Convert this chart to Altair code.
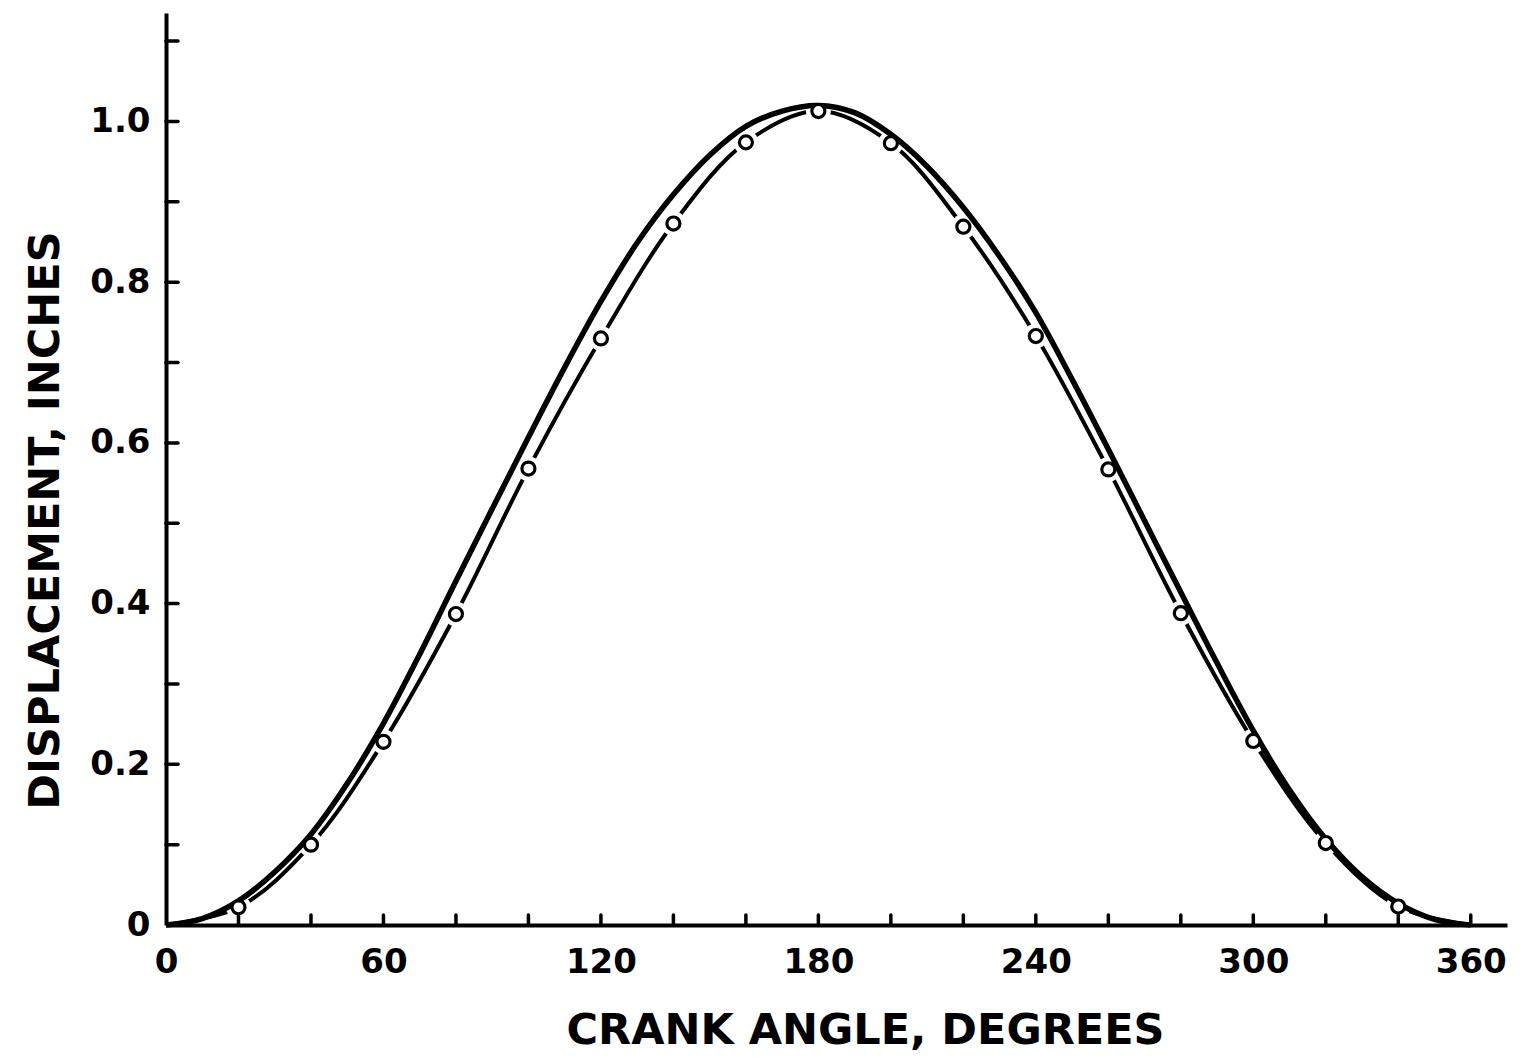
import altair as alt
import pandas as pd

# Measured curve (circles) - crank angle in degrees, displacement in inches
meas_angle = [20, 40, 60, 80, 100, 120, 140, 160, 180, 200, 220, 240, 260, 280, 300, 320, 340]
meas_disp = [0.022, 0.100, 0.228, 0.387, 0.568, 0.730, 0.873, 0.974, 1.013,
             0.973, 0.869, 0.733, 0.567, 0.388, 0.229, 0.102, 0.023]

# Thin line through the measured points (with zero end points)
thin_angle = [0] + meas_angle + [360]
thin_disp = [0.0] + meas_disp + [0.0]

# Heavy solid curve
solid_angle = list(range(0, 361, 10))
solid_disp = [0.000, 0.008, 0.030, 0.066, 0.113, 0.176, 0.251, 0.337, 0.428, 0.518,
              0.607, 0.694, 0.776, 0.849, 0.909, 0.958, 0.994, 1.013, 1.020, 1.011,
              0.984, 0.944, 0.893, 0.832, 0.762, 0.679, 0.592, 0.503, 0.414, 0.326,
              0.242, 0.168, 0.107, 0.060, 0.027, 0.007, 0.000]

x_tick_values = list(range(20, 361, 20))
x_label_values = [0, 60, 120, 180, 240, 300, 360]
y_tick_values = [0.1, 0.2, 0.3, 0.4, 0.5, 0.6, 0.7, 0.8, 0.9, 1.0, 1.1]
y_label_values = [0, 0.2, 0.4, 0.6, 0.8, 1.0]

W = 1341
H = 912
FONT = "DejaVu Sans"

thin_df = pd.DataFrame({"angle": thin_angle, "disp": thin_disp})
meas_df = pd.DataFrame({"angle": meas_angle, "disp": meas_disp})
solid_df = pd.DataFrame({"angle": solid_angle, "disp": solid_disp})
xt_df = pd.DataFrame({"angle": x_tick_values})
yt_df = pd.DataFrame({"disp": y_tick_values})

xs = alt.Scale(domain=[0, 370], nice=False, zero=False)
ys = alt.Scale(domain=[0, 1.135], nice=False, zero=False)

x_axis = alt.Axis(
    values=x_label_values, ticks=False, grid=False, domainColor="black", domainWidth=4,
    labelFont=FONT, labelFontSize=34, labelFontWeight="bold", labelColor="black",
    labelPadding=20, labelFlush=False,
    title="CRANK  ANGLE,  DEGREES", titleFont=FONT, titleFontSize=43, titleFontWeight="bold",
    titleColor="black", titleX=699, titleY=105, titleBaseline="middle", titleAnchor="middle",
)
y_axis = alt.Axis(
    values=y_label_values, ticks=False, grid=False, domainColor="black", domainWidth=4,
    labelFont=FONT, labelFontSize=34, labelFontWeight="bold", labelColor="black",
    labelPadding=16, labelFlush=False,
    labelExpr="datum.value == 0 ? '0' : format(datum.value, '.1f')",
    title="DISPLACEMENT,  INCHES", titleFont=FONT, titleFontSize=43, titleFontWeight="bold",
    titleColor="black", titleX=-121, titleY=507, titleAngle=270, titleBaseline="middle",
    titleAnchor="middle",
)

X = alt.X("angle:Q", scale=xs, axis=x_axis)
Y = alt.Y("disp:Q", scale=ys, axis=y_axis)

thin = alt.Chart(thin_df).mark_line(color="black", strokeWidth=4, interpolate="catmull-rom").encode(
    x=X, y=Y,
)
halo = alt.Chart(meas_df).mark_point(shape="circle", filled=True, color="white", size=620, opacity=1).encode(
    x=X, y=Y,
)
solid = alt.Chart(solid_df).mark_line(color="black", strokeWidth=5.5, interpolate="catmull-rom").encode(
    x=X, y=Y,
)
pts = alt.Chart(meas_df).mark_point(shape="circle", filled=False, stroke="black", fill="white",
                                     fillOpacity=1, strokeWidth=3.2, size=170, opacity=1).encode(
    x=X, y=Y,
)
xticks = alt.Chart(xt_df).mark_rule(color="black", strokeWidth=3.5, strokeCap="round").encode(
    x=X,
    y=alt.value(H),
    y2=alt.value(H - 10),
)
yticks = alt.Chart(yt_df).mark_rule(color="black", strokeWidth=3.5, strokeCap="round").encode(
    y=Y,
    x=alt.value(0),
    x2=alt.value(12),
)

chart = alt.layer(thin, halo, solid, pts, xticks, yticks).properties(
    width=W, height=H,
    autosize=alt.AutoSizeParams(type="none"),
    padding={"left": 166, "top": 13, "right": 20, "bottom": 132},
    background="white",
).configure_view(stroke=None)

chart.save("out.html", embed_options={"renderer": "svg", "actions": False})
